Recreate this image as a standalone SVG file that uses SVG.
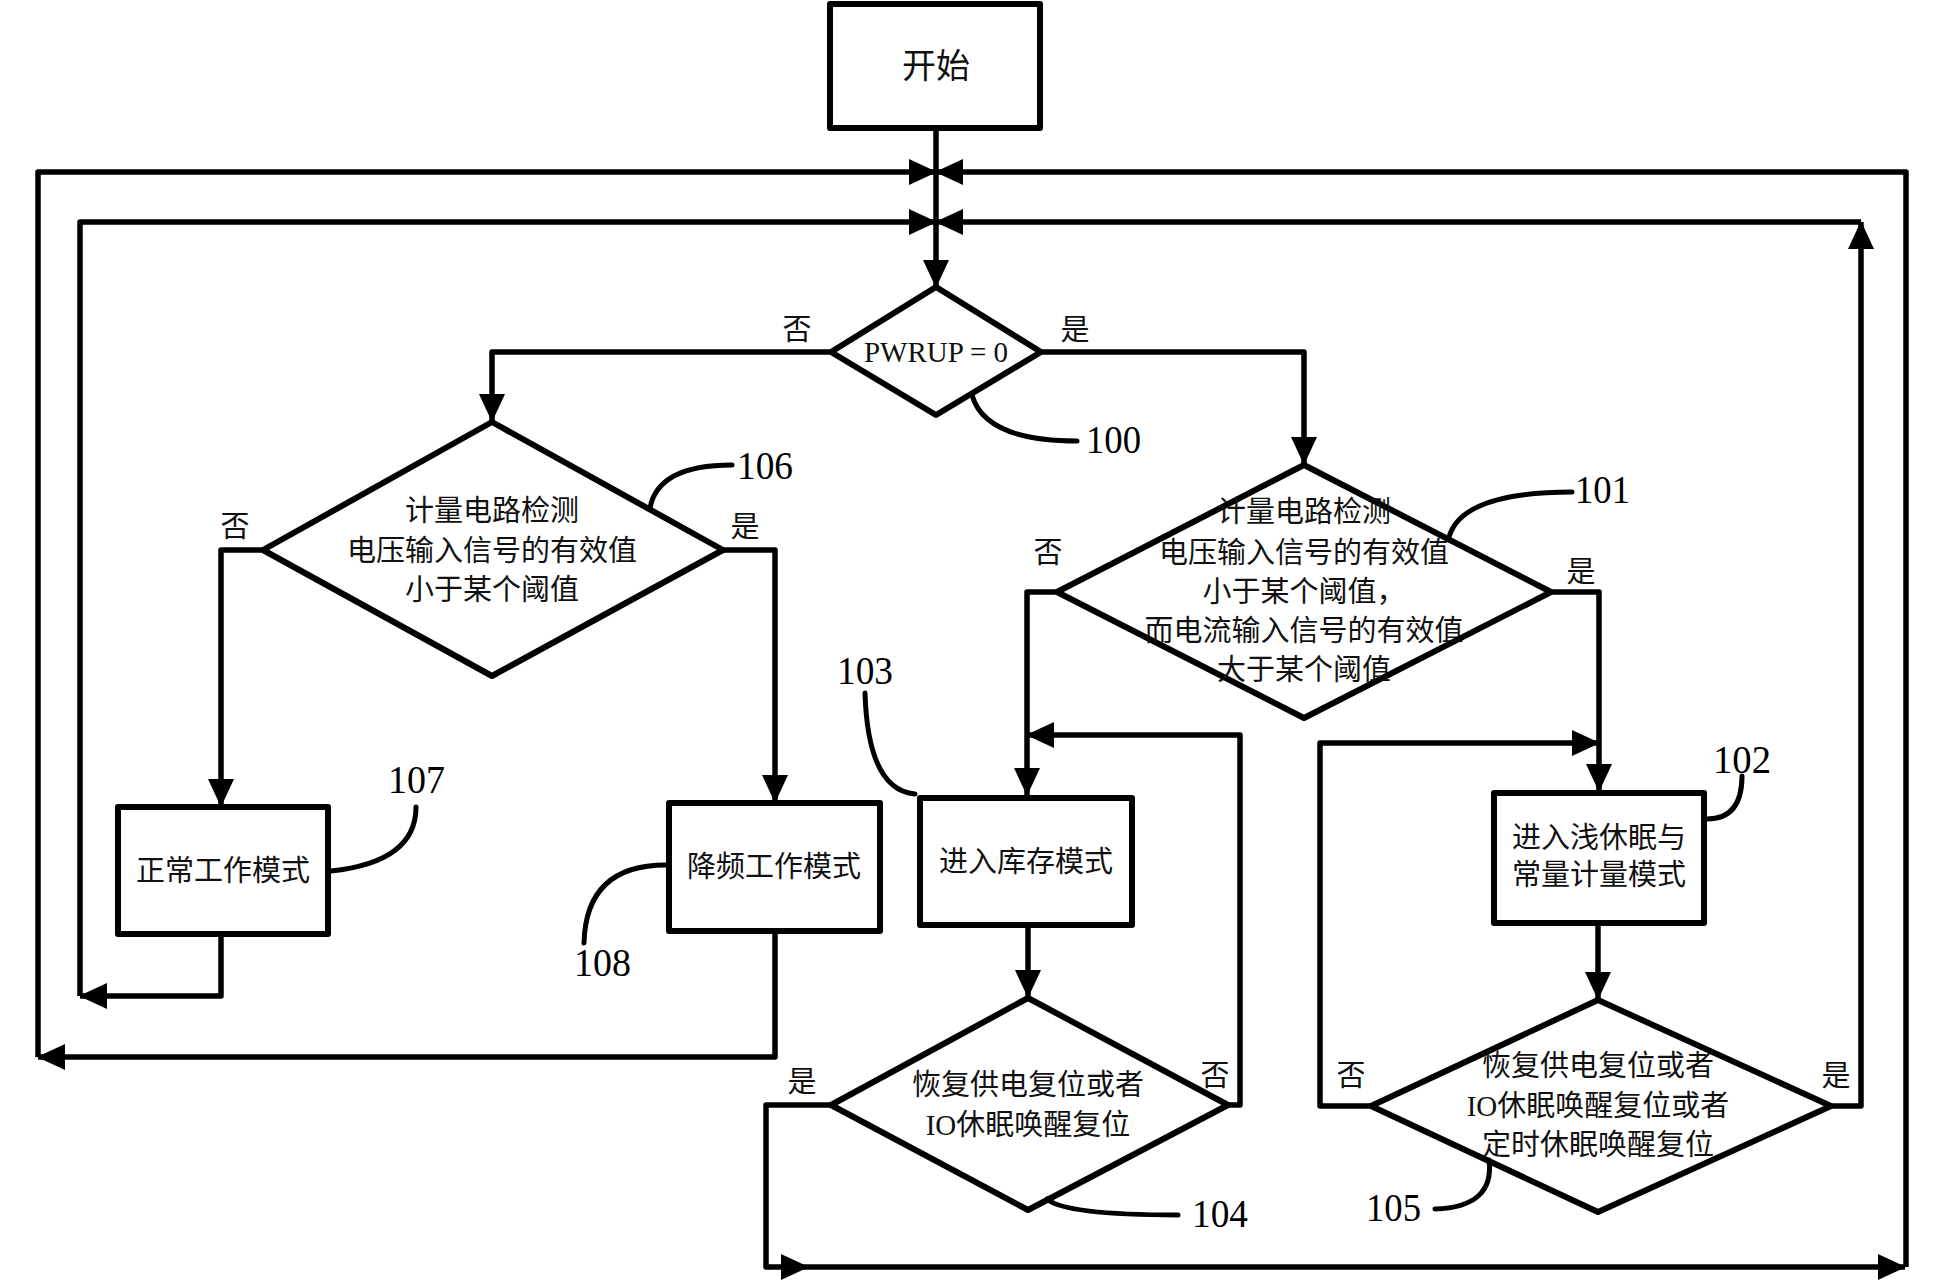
<svg xmlns="http://www.w3.org/2000/svg" width="1944" height="1284" viewBox="0 0 1944 1284">
<style>
.shape{fill:#fff;stroke:#000;stroke-width:6;stroke-linejoin:round}
.conn{fill:none;stroke:#000;stroke-width:5.5;stroke-linejoin:round;marker-end:url(#arr)}
.lead{fill:none;stroke:#000;stroke-width:5;stroke-linecap:round}
.t{font-family:"Liberation Serif","Noto Sans CJK SC",serif;font-size:29px;fill:#111;text-anchor:middle;dominant-baseline:central}
.num{font-family:"Liberation Serif",serif;font-size:40px;fill:#000}
</style>
<defs>
<marker id="arr" viewBox="0 0 28 26" refX="27" refY="13" markerWidth="28" markerHeight="26" markerUnits="userSpaceOnUse" orient="auto">
<path d="M0,0 L28,13 L0,26 z" fill="#000"/>
</marker>
</defs>
<g id="connectors">
<path class="conn" d="M936,130 V287"/>
<path class="conn" d="M831,352 H492 V421"/>
<path class="conn" d="M1041,352 H1304 V464"/>
<path class="conn" d="M263,550 H221 V806"/>
<path class="conn" d="M723,550 H775 V802"/>
<path class="conn" d="M221,934 V996 H80"/>
<path class="conn" d="M80,996 V222 H936"/>
<path class="conn" d="M775,931 V1057 H38"/>
<path class="conn" d="M38,1057 V172 H936"/>
<path class="conn" d="M1057,592 H1027 V795"/>
<path class="conn" d="M1551,592 H1599 V791"/>
<path class="conn" d="M1028,925 V997"/>
<path class="conn" d="M1228,1105 H1240 V735 H1027"/>
<path class="conn" d="M831,1105 H766 V1267 H808"/>
<path class="conn" d="M808,1267 H1905"/>
<path class="conn" d="M1906,1267 V172 H936"/>
<path class="conn" d="M1598,923 V999"/>
<path class="conn" d="M1371,1106 H1320 V743 H1599"/>
<path class="conn" d="M1831,1106 H1861 V222"/>
<path class="conn" d="M1861,222 H936"/>
</g>
<g id="start">
<rect class="shape" x="830" y="4" width="210" height="124"/>
<text class="t" x="936" y="66" style="font-size:34px">开始</text>
</g>
<g id="n100">
<polygon class="shape" points="936,287 1041,352 936,415 831,352"/>
<text class="t" x="936" y="352" style="font-size:29px">PWRUP = 0</text>
<text class="t" x="797" y="330">否</text>
<text class="t" x="1075" y="330">是</text>
<path class="lead" d="M972,395 Q985,441 1077,441"/>
<text class="num" x="1086" y="453" textLength="55" lengthAdjust="spacingAndGlyphs">100</text>
</g>
<g id="n106">
<polygon class="shape" points="492,422 723,550 492,676 263,550"/>
<text class="t" x="492" y="511">计量电路检测</text>
<text class="t" x="492" y="551">电压输入信号的有效值</text>
<text class="t" x="492" y="590">小于某个阈值</text>
<text class="t" x="235" y="527">否</text>
<text class="t" x="745" y="527">是</text>
<path class="lead" d="M650,508 Q658,465 732,465"/>
<text class="num" x="737" y="479" textLength="56" lengthAdjust="spacingAndGlyphs">106</text>
</g>
<g id="n101">
<polygon class="shape" points="1304,465 1551,592 1304,718 1057,592"/>
<text class="t" x="1304" y="512">计量电路检测</text>
<text class="t" x="1304" y="553">电压输入信号的有效值</text>
<text class="t" x="1304" y="592">小于某个阈值，</text>
<text class="t" x="1304" y="631">而电流输入信号的有效值</text>
<text class="t" x="1304" y="670">大于某个阈值</text>
<text class="t" x="1048" y="553">否</text>
<text class="t" x="1581" y="572">是</text>
<path class="lead" d="M1449,537 Q1462,492 1572,492"/>
<text class="num" x="1575" y="503" textLength="55" lengthAdjust="spacingAndGlyphs">101</text>
</g>
<g id="n107">
<rect class="shape" x="118" y="807" width="210" height="127"/>
<text class="t" x="223" y="871">正常工作模式</text>
<path class="lead" d="M331,871 Q416,862 416,807"/>
<text class="num" x="388" y="793" textLength="57" lengthAdjust="spacingAndGlyphs">107</text>
</g>
<g id="n108">
<rect class="shape" x="669" y="803" width="211" height="128"/>
<text class="t" x="774" y="867">降频工作模式</text>
<path class="lead" d="M666,865 Q586,865 584,943"/>
<text class="num" x="574" y="976" textLength="57" lengthAdjust="spacingAndGlyphs">108</text>
</g>
<g id="n103">
<rect class="shape" x="920" y="798" width="212" height="127"/>
<text class="t" x="1026" y="862">进入库存模式</text>
<path class="lead" d="M865,693 Q868,790 915,794"/>
<text class="num" x="837" y="684" textLength="56" lengthAdjust="spacingAndGlyphs">103</text>
</g>
<g id="n102">
<rect class="shape" x="1494" y="793" width="210" height="130"/>
<text class="t" x="1599" y="838">进入浅休眠与</text>
<text class="t" x="1599" y="875">常量计量模式</text>
<path class="lead" d="M1707,819 Q1742,819 1742,776"/>
<text class="num" x="1713" y="773" textLength="58" lengthAdjust="spacingAndGlyphs">102</text>
</g>
<g id="n104">
<polygon class="shape" points="1028,998 1228,1105 1028,1210 831,1105"/>
<text class="t" x="1028" y="1085">恢复供电复位或者</text>
<text class="t" x="1028" y="1125">IO休眠唤醒复位</text>
<text class="t" x="802" y="1082">是</text>
<text class="t" x="1215" y="1076">否</text>
<path class="lead" d="M1047,1199 Q1065,1215 1178,1215"/>
<text class="num" x="1192" y="1227" textLength="56" lengthAdjust="spacingAndGlyphs">104</text>
</g>
<g id="n105">
<polygon class="shape" points="1598,1000 1831,1106 1598,1212 1371,1106"/>
<text class="t" x="1598" y="1066">恢复供电复位或者</text>
<text class="t" x="1598" y="1106">IO休眠唤醒复位或者</text>
<text class="t" x="1598" y="1145">定时休眠唤醒复位</text>
<text class="t" x="1351" y="1076">否</text>
<text class="t" x="1836" y="1076">是</text>
<path class="lead" d="M1489,1160 Q1495,1207 1435,1209"/>
<text class="num" x="1366" y="1221" textLength="55" lengthAdjust="spacingAndGlyphs">105</text>
</g>
</svg>
